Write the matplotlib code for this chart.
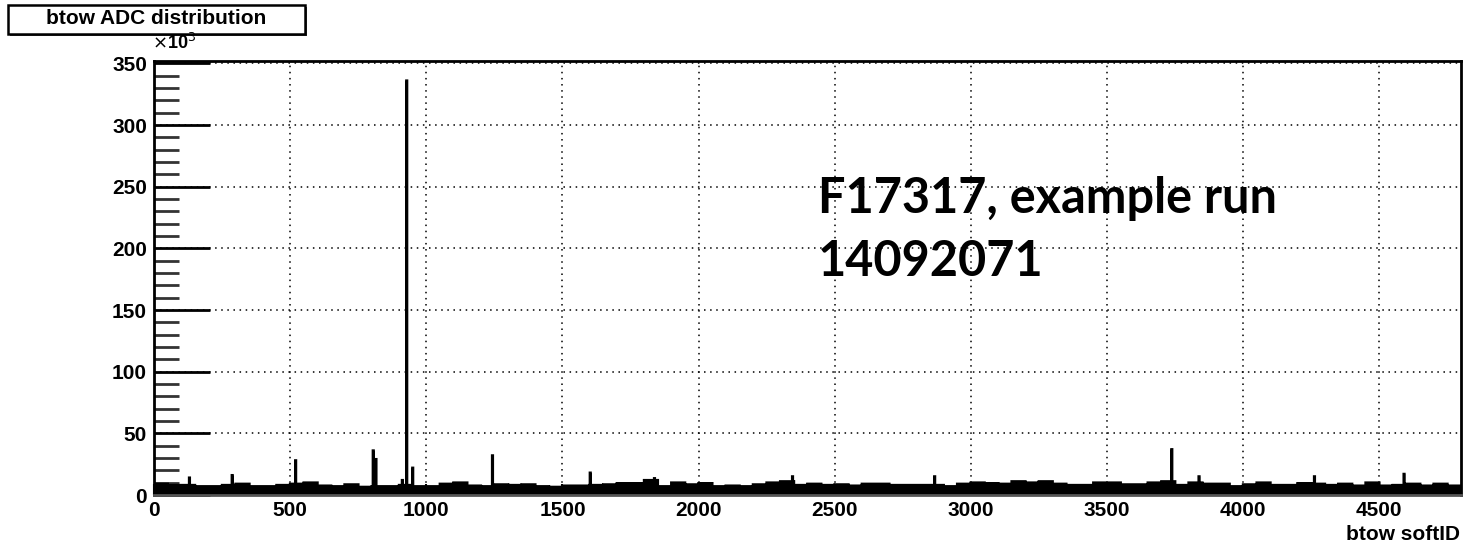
import numpy as np
import matplotlib.pyplot as plt
from matplotlib.patches import Rectangle

plt.rcParams['font.family'] = ['Liberation Sans', 'DejaVu Sans']

# top of the dense baseline band, one value per 50 softIDs (x10^3 counts)
band_top = [9, 8, 8, 7, 7, 8, 9, 7, 7, 8,
            9, 10, 7.5, 7, 8.5, 6.5, 7, 7, 8, 7,
            7, 9, 10, 7.5, 7, 8.5, 8, 8.5, 7, 6.5,
            7.5, 7.5, 8, 8.5, 9.5, 9.5, 12, 7, 10, 8.5,
            9.5, 7, 7.5, 7, 8.5, 10, 11, 8, 9, 8,
            8.5, 7.5, 9, 9, 8, 8, 8, 8, 7, 9,
            10, 9.5, 9, 11, 10, 11, 9, 8, 8, 10,
            10, 8.5, 8.5, 10, 11, 8, 10, 9, 9, 7,
            8.5, 10, 8, 8, 9.5, 9, 8, 9, 7.5, 10,
            7.5, 8, 9, 7.5, 9, 7.5]

# hot towers sticking out of the band
spike_id  = [130, 287, 520, 805, 815, 912, 928, 950, 1243, 1602,
             1838, 2345, 2867, 3738, 3838, 4262, 4591]
spike_val = [14, 16, 28, 36, 29, 12, 336, 22, 32, 18,
             13.5, 15, 15, 37, 15, 15, 17]

n_bins = 4800
block = n_bins // len(band_top)
counts = np.repeat(np.array(band_top, dtype=float), block)
for sid, val in zip(spike_id, spike_val):
  counts[sid - 1:sid + 1] = val
edges = np.arange(n_bins + 1)

fig = plt.figure(figsize=(14.63, 5.47), dpi=100)
ax = fig.add_axes([0.1053, 0.095, 0.8933, 0.7935])

ax.fill_between(edges, np.append(counts, counts[-1]), step='post',
                color='black', lw=0)
ax.stairs(counts, edges, color='black', lw=1.9)

ax.set_xlim(0, 4800)
ax.set_ylim(0, 352)
ax.set_xticks(np.arange(0, 4501, 500))
ax.set_yticks(np.arange(0, 351, 50))
ax.set_yticks(np.arange(0, 351, 10), minor=True)
ax.grid(True, color='black', linestyle=(0, (1, 3)), lw=1.1)
ax.set_axisbelow(True)

ax.tick_params(axis='y', which='major', direction='in', length=40, width=2,
               labelsize=15, pad=5)
ax.tick_params(axis='y', which='minor', direction='in', length=18, width=2,
               color='#333333')
ax.tick_params(axis='x', which='major', direction='in', length=8, width=1.5,
               labelsize=15, pad=4)
for lab in ax.get_xticklabels() + ax.get_yticklabels():
  lab.set_fontweight('bold')

for side in ['left', 'top', 'right']:
  ax.spines[side].set_linewidth(2)
ax.spines['bottom'].set_linewidth(2)
ax.spines['bottom'].set_color('#555555')

fig.text(0.104, 0.903, r'$\times$10$^3$', fontsize=13, fontweight='bold',
         ha='left', va='bottom')
fig.text(0.998, 0.006, 'btow softID', fontsize=15, fontweight='bold',
         ha='right', va='bottom')

# title box with a small drop shadow
fig.patches.append(Rectangle((10 / 1463, 1 - 36 / 547), 297 / 1463, 29 / 547,
                             transform=fig.transFigure, facecolor='#444444',
                             edgecolor='none'))
fig.patches.append(Rectangle((8 / 1463, 1 - 34 / 547), 297 / 1463, 29 / 547,
                             transform=fig.transFigure, facecolor='white',
                             edgecolor='black', lw=1.8))
fig.text(156 / 1463, 1 - 19 / 547, 'btow ADC distribution', fontsize=15,
         fontweight='bold', ha='center', va='center')

fig.text(818 / 1463, 1 - 230 / 547, 'F17317, example run\n14092071',
         fontsize=35, fontweight='bold', family=['Lato', 'DejaVu Sans'],
         ha='left', va='center', linespacing=1.5)

fig.savefig('out.png', dpi=100)
